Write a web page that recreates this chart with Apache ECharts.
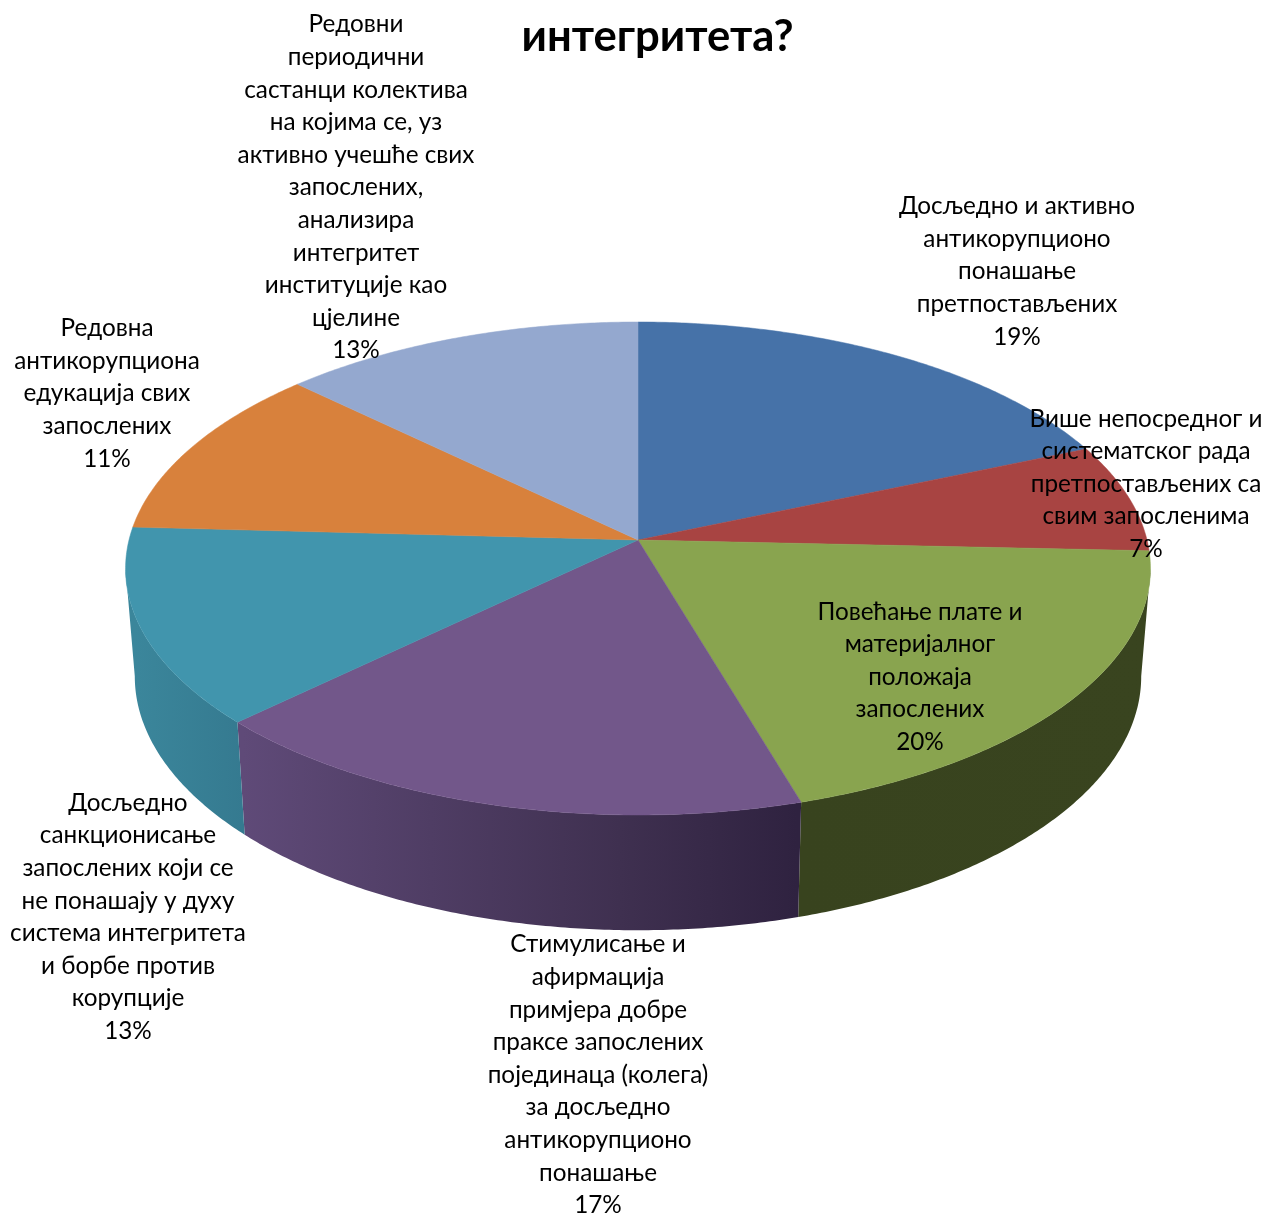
<!DOCTYPE html>
<html><head><meta charset="utf-8">
<style>html,body{margin:0;padding:0;background:#fff}#c{width:1266px;height:1214px}</style>
<script src="https://cdn.jsdelivr.net/npm/echarts@6/dist/echarts.min.js"></script>
</head><body><div id="c"></div>
<script>
const titleText = 'интегритета?';
const categories = [
 'Досљедно и активно\nантикорупционо\nпонашање\nпретпостављених',
 'Више непосредног и\nсистематског рада\nпретпостављених са\nсвим запосленима',
 'Повећање плате и\nматеријалног\nположаја\nзапослених',
 'Стимулисање и\nафирмација\nпримјера добре\nпраксе запослених\nпојединаца (колега)\nза досљедно\nантикорупционо\nпонашање',
 'Досљедно\nсанкционисање\nзапослених који се\nне понашају у духу\nсистема интегритета\nи борбе против\nкорупције',
 'Редовна\nантикорупциона\nедукација свих\nзапослених',
 'Редовни\nпериодични\nсастанци колектива\nна којима се, уз\nактивно учешће свих\nзапослених,\nанализира\nинтегритет\nинституције као\nцјелине'
];
const values = [18.6, 7.1, 19.7, 17.49, 12.96, 11.3, 12.85];
const topColors = ['#4672a8','#a84442','#89a44f','#72578a','#4195ad','#d8813c','#94a8cf'];
const wallStops = [null,null,
  [[1151,'#39441f'],[797,'#38431e']],
  [[243,'#5f4a78'],[620,'#3f3050'],[797,'#2f2240']],
  [[135,'#3b869b'],[243,'#357a90']],
  null,null];
const labelAnchors = [[1017,271.5],[1146,484],[920,677],[598,1075],[128,917],[107,393.5],[356,187.5]];

const FONT = 'Lato, "Noto Sans", sans-serif';
const LABEL_SIZE = 24.3, LINE_H = 32.6;
// projected disc geometry
const G = {cx:638, cy:540, R:509, S:243.2, k:0.1156, botX:0.982, botD:107, botY:1.03};
const total = values.reduce((a,b)=>a+b,0);
let acc = 0;
const spans = values.map(v=>{const s=acc; acc+=v; return [s/total*360, acc/total*360];});
const rad = d=>d*Math.PI/180;
function rimTop(t){const a=rad(t), w=1+G.k*Math.cos(a);
  return [G.cx+G.R*Math.sin(a)/w, G.cy-G.S*Math.cos(a)/w];}
function rimBottom(t){const p=rimTop(t);
  return [G.cx+G.botX*(p[0]-G.cx), G.cy+G.botY*(p[1]-G.cy)+G.botD];}
const silR = Math.acos(-G.k)*180/Math.PI, silL = 360-silR;

function arc(fn,a,b){const n=Math.max(2,Math.ceil((b-a)/0.5)), out=[];
  for(let i=0;i<=n;i++) out.push(fn(a+(b-a)*i/n)); return out;}

function renderTop(params,api){
  const i=params.dataIndex, a=api.value(0), b=api.value(1);
  const pts=[[G.cx,G.cy]].concat(arc(rimTop,a,b));
  return {type:'polygon',shape:{points:pts},style:{fill:topColors[i],stroke:topColors[i],lineWidth:0.5}};
}
function renderWall(params,api){
  const i=params.dataIndex;
  const a=Math.max(api.value(0),silR), b=Math.min(api.value(1),silL);
  const stops=wallStops[i];
  if(b<=a||!stops) return null;
  const pts=arc(rimTop,a,b).concat(arc(rimBottom,a,b).reverse());
  const xs=stops.map(s=>s[0]), x0=Math.min(...xs), x1=Math.max(...xs);
  const grad=new echarts.graphic.LinearGradient(x0,0,x1,0,
    stops.map(s=>({offset:(s[0]-x0)/(x1-x0),color:s[1]})),true);
  return {type:'polygon',shape:{points:pts},style:{fill:grad}};
}
function renderLabel(params,api){
  const i=params.dataIndex, pct=Math.round(api.value(0)/total*100);
  return {type:'text',x:labelAnchors[i][0],y:labelAnchors[i][1],
    style:{text:categories[i]+'\n'+pct+'%',align:'center',verticalAlign:'middle',
      font:LABEL_SIZE+'px '+FONT,lineHeight:LINE_H,fill:'#000'}};
}
const chart=echarts.init(document.getElementById('c'));
chart.setOption({
  animation:false,
  backgroundColor:'#fff',
  title:{text:titleText,left:652.5,top:10,textAlign:'center',
    textStyle:{fontFamily:FONT,fontSize:43.6,fontWeight:'bold',color:'#000'}},
  series:[
    {type:'custom',coordinateSystem:'none',z:1,renderItem:renderWall,data:spans,silent:true},
    {type:'custom',coordinateSystem:'none',z:2,renderItem:renderTop,data:spans,silent:true},
    {type:'custom',coordinateSystem:'none',z:3,renderItem:renderLabel,data:values.map(v=>[v]),silent:true}
  ]
});
</script></body></html>
